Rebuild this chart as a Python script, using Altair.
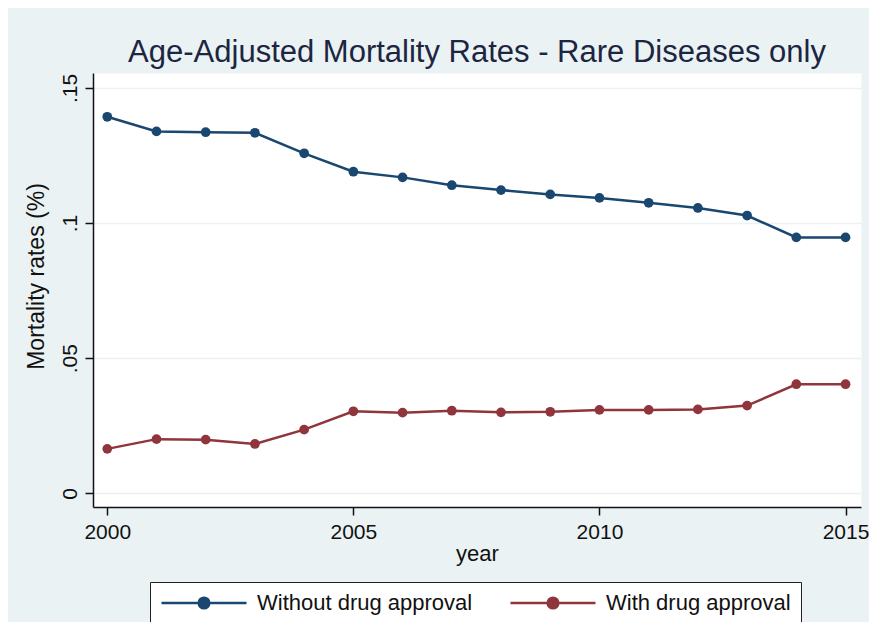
import altair as alt
import pandas as pd

years = list(range(2000, 2016))
without_approval = [0.1393, 0.1339, 0.1336, 0.1334, 0.1258, 0.1190, 0.1169, 0.1140,
                    0.1122, 0.1106, 0.1093, 0.1075, 0.1056, 0.1028, 0.0947, 0.0947]
with_approval = [0.0165, 0.0201, 0.0199, 0.0183, 0.0236, 0.0304, 0.0299, 0.0306,
                 0.0300, 0.0302, 0.0309, 0.0309, 0.0311, 0.0325, 0.0404, 0.0404]
series_names = ["Without drug approval", "With drug approval"]
series_colors = ["#1A476F", "#90353B"]
x_ticks = [2000, 2005, 2010, 2015]
y_ticks = [0, 0.05, 0.1, 0.15]

rows = []
for name, vals in zip(series_names, [without_approval, with_approval]):
    for yr, v in zip(years, vals):
        rows.append({"year": yr, "rate": v, "series": name})
df = pd.DataFrame(rows)

FONT = "Liberation Sans"
BG = "#EAF2F3"

# legend glyph: a line with a dot in the middle (symbol size 100 -> scale 5 px/unit)
legend_path = ("M-8.5,0L8.5,0M-1.06,0A1.06,1.06,0,1,1,1.06,0"
               "A1.06,1.06,0,1,1,-1.06,0Z")

color = alt.Color(
    "series:N",
    scale=alt.Scale(domain=series_names, range=series_colors),
    legend=alt.Legend(
        title=None,
        orient="none",
        legendX=57,
        legendY=509,
        direction="horizontal",
        fillColor="white",
        strokeColor="#222222",
        padding=10,
        cornerRadius=0,
        symbolType=legend_path,
        symbolSize=100,
        symbolStrokeWidth=2.5,
        symbolOffset=33,
        labelFontSize=22,
        labelFont=FONT,
        labelColor="#111111",
        labelOffset=42,
        columnPadding=32,
        labelLimit=400,
    ),
)

x = alt.X(
    "year:Q",
    scale=alt.Scale(domain=[1999.71, 2015.314], nice=False, zero=False),
    axis=alt.Axis(
        values=x_ticks,
        format="d",
        title="year",
        grid=False,
        labelAngle=0,
        labelPadding=6,
        labelFlush=False,
        titleX=384,
        titleY=53,
        titleAlign="center",
        titleBaseline="alphabetic",
        titleFontSize=22,
    ),
)

y = alt.Y(
    "rate:Q",
    scale=alt.Scale(domain=[-0.005, 0.1555], nice=False, zero=False),
    axis=alt.Axis(
        values=y_ticks,
        labelExpr="datum.value == 0 ? '0' : replace(format(datum.value, '.2~f'), '0.', '.')",
        title="Mortality rates (%)",
        grid=True,
        labelAngle=270,
        labelAlign="center",
        labelBaseline="alphabetic",
        labelPadding=9,
        titleAngle=270,
        titleX=-49.5,
        titleY=203,
        titleAlign="center",
        titleBaseline="alphabetic",
        titleFontSize=23,
    ),
)

base = alt.Chart(df).encode(x=x, y=y, color=color)
lines = base.mark_line(strokeWidth=2.5)
points = base.mark_point(filled=True, size=95, opacity=1, shape="circle")

chart = (
    alt.layer(lines, points)
    .properties(
        width=768,
        height=434,
        padding={"left": 85, "top": 65, "right": 8, "bottom": 115},
        autosize=alt.AutoSizeParams(type="none"),
        background=BG,
        title=alt.TitleParams(
            "Age-Adjusted Mortality Rates - Rare Diseases only",
            fontSize=31,
            font=FONT,
            fontWeight="normal",
            color="#1C2541",
            anchor="middle",
            offset=4,
        ),
    )
    .configure_view(fill="white", stroke="transparent")
    .configure_axis(
        domainColor="#111111",
        domainWidth=1.5,
        tickColor="#111111",
        tickWidth=1.5,
        tickSize=8,
        labelFont=FONT,
        labelFontSize=21,
        labelColor="#111111",
        titleFont=FONT,
        titleFontWeight="normal",
        titleColor="#111111",
        gridColor=BG,
        gridWidth=1.5,
    )
)

chart.save("out.html", embed_options={"renderer": "svg", "actions": False})
